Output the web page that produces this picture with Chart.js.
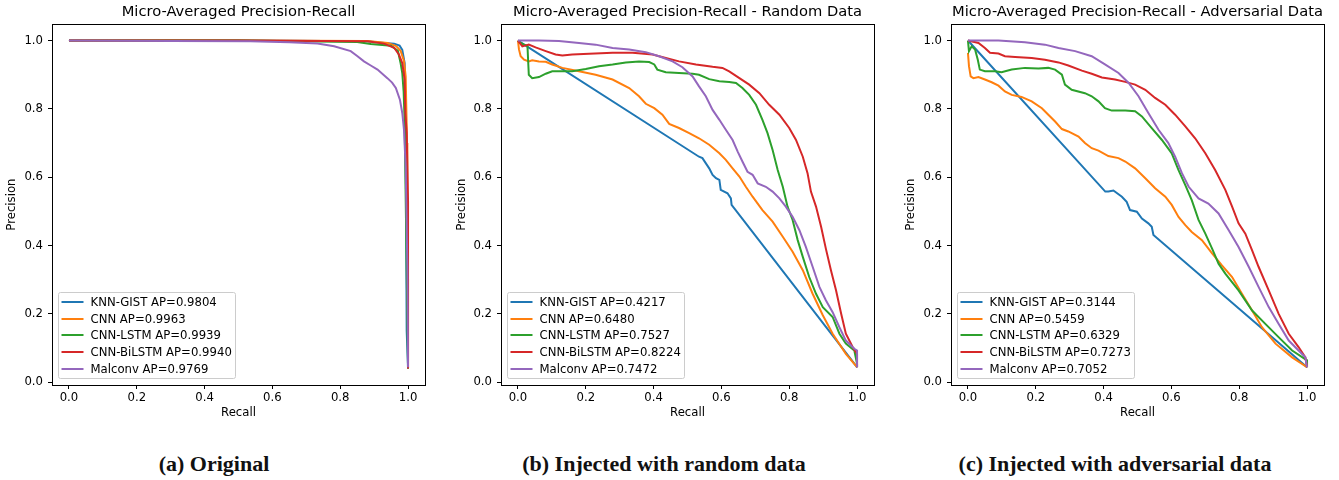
<!DOCTYPE html>
<html>
<head>
<meta charset="utf-8">
<script src="https://cdn.jsdelivr.net/npm/chart.js@4.4.0/dist/chart.umd.min.js"></script>
<style>
body { margin: 0; background: #fff; width: 1339px; height: 480px; position: relative; overflow: hidden; }
canvas { position: absolute; top: 0; }
.cap { position: absolute; top: 451px; font-family: "Liberation Serif", serif; font-weight: bold; font-size: 22px; color: #111; white-space: nowrap; transform: translateX(-50%); }
</style>
</head>
<body>
<canvas id="chartA" width="446" height="430" style="left:0px"></canvas>
<canvas id="chartB" width="446" height="430" style="left:446px"></canvas>
<canvas id="chartC" width="447" height="430" style="left:892px"></canvas>
<div class="cap" style="left:214px">(a) Original</div>
<div class="cap" style="left:664px">(b) Injected with random data</div>
<div class="cap" style="left:1115px">(c) Injected with adversarial data</div>
<script>
const modelNames = ['KNN-GIST', 'CNN', 'CNN-LSTM', 'CNN-BiLSTM', 'Malconv'];
const apOriginal = [0.9804, 0.9963, 0.9939, 0.9940, 0.9769];
const apRandom = [0.4217, 0.6480, 0.7527, 0.8224, 0.7472];
const apAdversarial = [0.3144, 0.5459, 0.6329, 0.7273, 0.7052];
const xTicks = [0, 0.2, 0.4, 0.6, 0.8, 1.0];

// [recall, precision]
const origKnn = [[0, 1.0], [0.5, 1.0], [0.88, 0.998], [0.93, 0.993], [0.959, 0.991], [0.975, 0.985], [0.983, 0.973], [0.99, 0.934], [0.992, 0.8], [0.994, 0.55], [0.996, 0.15], [1.0, 0.04]];
const origCnn = [[0, 1.0], [0.5, 1.0], [0.88, 0.999], [0.94, 0.993], [0.965, 0.984], [0.978, 0.97], [0.988, 0.94], [0.993, 0.895], [0.997, 0.7], [0.998, 0.57], [1.0, 0.3], [1.0, 0.04]];
const origLstm = [[0, 1.0], [0.5, 1.0], [0.85, 0.996], [0.89, 0.99], [0.95, 0.985], [0.97, 0.97], [0.978, 0.934], [0.983, 0.905], [0.987, 0.85], [0.99, 0.76], [0.995, 0.4], [1.0, 0.04]];
const origBilstm = [[0, 1.0], [0.5, 1.0], [0.88, 0.998], [0.929, 0.991], [0.959, 0.979], [0.973, 0.959], [0.983, 0.934], [0.99, 0.886], [0.992, 0.788], [0.996, 0.73], [1.0, 0.53], [1.0, 0.04]];
const origMalconv = [[0, 1.0], [0.3, 0.999], [0.535, 0.998], [0.65, 0.995], [0.733, 0.991], [0.782, 0.983], [0.831, 0.969], [0.85, 0.955], [0.87, 0.939], [0.89, 0.927], [0.91, 0.915], [0.939, 0.89], [0.953, 0.877], [0.964, 0.861], [0.976, 0.827], [0.983, 0.788], [0.988, 0.739], [0.993, 0.63], [0.998, 0.338], [1.0, 0.044]];

const randKnn = [[0, 1.0], [0.534, 0.66], [0.544, 0.656], [0.564, 0.626], [0.574, 0.607], [0.584, 0.597], [0.594, 0.592], [0.598, 0.563], [0.618, 0.553], [0.628, 0.538], [0.63, 0.519], [1.0, 0.044]];
const randCnn = [[0, 1.0], [0.003, 0.974], [0.008, 0.954], [0.018, 0.944], [0.032, 0.939], [0.042, 0.942], [0.062, 0.939], [0.082, 0.938], [0.101, 0.93], [0.131, 0.92], [0.18, 0.91], [0.229, 0.9], [0.279, 0.886], [0.328, 0.861], [0.357, 0.837], [0.377, 0.815], [0.402, 0.802], [0.426, 0.783], [0.446, 0.756], [0.475, 0.744], [0.505, 0.729], [0.534, 0.714], [0.564, 0.695], [0.594, 0.67], [0.613, 0.651], [0.633, 0.626], [0.653, 0.602], [0.672, 0.572], [0.692, 0.543], [0.721, 0.504], [0.751, 0.47], [0.781, 0.426], [0.81, 0.382], [0.84, 0.328], [0.869, 0.259], [0.899, 0.196], [0.928, 0.142], [0.967, 0.083], [1.0, 0.044]];
const randLstm = [[0, 1.0], [0.008, 0.993], [0.018, 0.988], [0.028, 0.985], [0.032, 0.9], [0.042, 0.89], [0.062, 0.893], [0.082, 0.903], [0.101, 0.91], [0.131, 0.91], [0.16, 0.91], [0.2, 0.917], [0.239, 0.925], [0.279, 0.93], [0.318, 0.936], [0.357, 0.939], [0.387, 0.937], [0.402, 0.93], [0.411, 0.915], [0.436, 0.907], [0.475, 0.905], [0.515, 0.903], [0.534, 0.9], [0.564, 0.887], [0.594, 0.881], [0.623, 0.879], [0.643, 0.876], [0.662, 0.861], [0.682, 0.841], [0.702, 0.812], [0.721, 0.768], [0.736, 0.729], [0.751, 0.68], [0.766, 0.621], [0.781, 0.572], [0.795, 0.514], [0.81, 0.475], [0.825, 0.416], [0.84, 0.367], [0.859, 0.308], [0.879, 0.259], [0.899, 0.22], [0.928, 0.191], [0.948, 0.142], [0.967, 0.113], [0.992, 0.093], [1.0, 0.054], [1.0, 0.044]];
const randBilstm = [[0, 1.0], [0.013, 0.983], [0.032, 0.988], [0.052, 0.98], [0.082, 0.969], [0.111, 0.959], [0.131, 0.956], [0.16, 0.959], [0.21, 0.961], [0.279, 0.964], [0.338, 0.964], [0.397, 0.959], [0.436, 0.949], [0.475, 0.939], [0.525, 0.93], [0.574, 0.923], [0.603, 0.92], [0.623, 0.91], [0.653, 0.89], [0.682, 0.871], [0.712, 0.846], [0.741, 0.812], [0.771, 0.783], [0.8, 0.744], [0.82, 0.709], [0.84, 0.66], [0.854, 0.612], [0.864, 0.558], [0.879, 0.514], [0.894, 0.455], [0.908, 0.391], [0.923, 0.328], [0.938, 0.269], [0.953, 0.201], [0.967, 0.142], [0.987, 0.103], [1.0, 0.083], [1.0, 0.044]];
const randMalconv = [[0, 1.0], [0.062, 1.0], [0.121, 0.999], [0.18, 0.993], [0.229, 0.988], [0.279, 0.978], [0.328, 0.974], [0.377, 0.966], [0.416, 0.954], [0.456, 0.939], [0.485, 0.922], [0.515, 0.895], [0.534, 0.866], [0.554, 0.837], [0.574, 0.797], [0.594, 0.768], [0.613, 0.739], [0.633, 0.709], [0.648, 0.675], [0.662, 0.646], [0.677, 0.616], [0.692, 0.607], [0.707, 0.582], [0.731, 0.572], [0.751, 0.558], [0.771, 0.538], [0.79, 0.514], [0.81, 0.484], [0.83, 0.445], [0.849, 0.396], [0.869, 0.338], [0.889, 0.279], [0.908, 0.24], [0.928, 0.205], [0.948, 0.161], [0.967, 0.122], [0.992, 0.098], [1.0, 0.093], [1.0, 0.044]];

const advKnn = [[0, 1.0], [0.405, 0.558], [0.414, 0.558], [0.429, 0.561], [0.454, 0.543], [0.468, 0.528], [0.478, 0.504], [0.498, 0.499], [0.513, 0.479], [0.532, 0.465], [0.542, 0.455], [0.547, 0.431], [1.0, 0.044]];
const advCnn = [[0, 0.964], [0.003, 0.925], [0.008, 0.895], [0.016, 0.89], [0.031, 0.893], [0.05, 0.886], [0.07, 0.878], [0.09, 0.868], [0.109, 0.851], [0.129, 0.841], [0.158, 0.835], [0.188, 0.822], [0.218, 0.802], [0.237, 0.783], [0.257, 0.763], [0.277, 0.741], [0.296, 0.734], [0.326, 0.719], [0.345, 0.7], [0.365, 0.685], [0.385, 0.678], [0.414, 0.662], [0.444, 0.656], [0.464, 0.646], [0.493, 0.626], [0.523, 0.597], [0.552, 0.568], [0.582, 0.543], [0.601, 0.519], [0.621, 0.484], [0.641, 0.46], [0.66, 0.44], [0.69, 0.416], [0.72, 0.377], [0.749, 0.342], [0.779, 0.308], [0.808, 0.259], [0.838, 0.21], [0.867, 0.161], [0.907, 0.113], [0.956, 0.073], [1.0, 0.044]];
const advLstm = [[0, 1.0], [0.003, 0.969], [0.011, 0.983], [0.021, 0.974], [0.029, 0.944], [0.035, 0.915], [0.05, 0.91], [0.08, 0.91], [0.099, 0.907], [0.129, 0.915], [0.168, 0.92], [0.208, 0.918], [0.237, 0.92], [0.257, 0.915], [0.277, 0.9], [0.286, 0.871], [0.306, 0.856], [0.345, 0.846], [0.365, 0.837], [0.385, 0.822], [0.404, 0.802], [0.424, 0.795], [0.464, 0.795], [0.493, 0.793], [0.513, 0.778], [0.542, 0.744], [0.572, 0.709], [0.601, 0.67], [0.621, 0.621], [0.641, 0.577], [0.66, 0.533], [0.68, 0.475], [0.7, 0.435], [0.72, 0.391], [0.739, 0.347], [0.759, 0.318], [0.798, 0.269], [0.838, 0.21], [0.877, 0.171], [0.916, 0.132], [0.956, 0.093], [1.0, 0.064], [1.0, 0.044]];
const advBilstm = [[0, 1.0], [0.031, 0.993], [0.05, 0.978], [0.065, 0.964], [0.09, 0.962], [0.109, 0.954], [0.139, 0.952], [0.188, 0.949], [0.227, 0.944], [0.267, 0.936], [0.296, 0.927], [0.336, 0.912], [0.365, 0.903], [0.395, 0.892], [0.434, 0.886], [0.464, 0.879], [0.493, 0.871], [0.523, 0.856], [0.552, 0.832], [0.582, 0.812], [0.611, 0.783], [0.641, 0.749], [0.67, 0.714], [0.7, 0.67], [0.729, 0.621], [0.759, 0.563], [0.779, 0.514], [0.798, 0.465], [0.818, 0.435], [0.838, 0.386], [0.857, 0.338], [0.887, 0.269], [0.916, 0.201], [0.946, 0.142], [0.975, 0.103], [0.995, 0.073], [1.0, 0.044]];
const advMalconv = [[0, 1.0], [0.09, 1.0], [0.168, 0.995], [0.227, 0.988], [0.267, 0.978], [0.316, 0.969], [0.365, 0.954], [0.404, 0.93], [0.444, 0.905], [0.474, 0.876], [0.503, 0.837], [0.532, 0.788], [0.562, 0.739], [0.591, 0.7], [0.611, 0.66], [0.631, 0.612], [0.651, 0.572], [0.68, 0.538], [0.709, 0.523], [0.739, 0.494], [0.769, 0.445], [0.798, 0.396], [0.828, 0.338], [0.857, 0.279], [0.887, 0.22], [0.916, 0.171], [0.946, 0.122], [0.975, 0.093], [0.995, 0.073], [1.0, 0.044]];

const colors = ['#1f77b4', '#ff7f0e', '#2ca02c', '#d62728', '#9467bd'];
const mplFont = { family: 'DejaVu Sans', size: 11.7 };

// matplotlib style legend box + full frame
const boxLegend = {
    id: 'boxLegend',
    afterDraw: function (chart, args, opts) {
        var ctx = chart.ctx;
        var area = chart.chartArea;
        ctx.save();
        ctx.strokeStyle = '#000';
        ctx.lineWidth = 1;
        ctx.strokeRect(Math.round(area.left) + 0.5, Math.round(area.top) + 0.5,
            Math.round(area.right - area.left), Math.round(area.bottom - area.top));

        ctx.font = '11.7px "DejaVu Sans"';
        var w = 0;
        opts.labels.forEach(function (t) { w = Math.max(w, ctx.measureText(t).width); });
        var bw = Math.round(32 + w + 4), bh = 86;
        var x = Math.round(area.left) + 6.5, y = Math.round(area.bottom) - 6.5 - bh;
        ctx.beginPath();
        ctx.roundRect(x, y, bw, bh, 2);
        ctx.fillStyle = 'rgba(255,255,255,0.8)';
        ctx.fill();
        ctx.strokeStyle = '#cccccc';
        ctx.stroke();
        ctx.textBaseline = 'middle';
        opts.labels.forEach(function (t, i) {
            var ly = Math.round(y + 9.5 + i * 16.7);
            ctx.strokeStyle = colors[i];
            ctx.lineWidth = 2;
            ctx.beginPath();
            ctx.moveTo(x + 3, ly);
            ctx.lineTo(x + 25, ly);
            ctx.stroke();
            ctx.fillStyle = '#000';
            ctx.fillText(t, x + 32, ly + 0.5);
        });
        ctx.restore();
    }
};

function makeChart(id, title, series, ap, yWidth, padRight, yTitlePad) {
    var labels = modelNames.map(function (n, i) { return n + ' AP=' + ap[i].toFixed(4); });
    return new Chart(document.getElementById(id), {
        type: 'scatter',
        data: {
            datasets: series.map(function (s, i) {
                return {
                    label: labels[i],
                    data: s.map(function (p) { return { x: p[0], y: p[1] }; }),
                    showLine: true,
                    borderColor: colors[i],
                    backgroundColor: colors[i],
                    borderWidth: 2,
                    pointRadius: 0,
                    tension: 0,
                    order: 4 - i
                };
            })
        },
        options: {
            responsive: false,
            animation: false,
            events: [],
            layout: { padding: { left: 0, right: padRight, top: 0, bottom: 0 } },
            plugins: {
                legend: { display: false },
                tooltip: { enabled: false },
                title: {
                    display: true,
                    fullSize: false,
                    text: title,
                    color: '#000',
                    font: { family: 'DejaVu Sans', size: 14.7, weight: 'normal' },
                    padding: { top: 3, bottom: 3.5 }
                },
                boxLegend: { labels: labels }
            },
            scales: {
                x: {
                    type: 'linear',
                    min: -0.05,
                    max: 1.05,
                    afterFit: function (s) { s.height = 45; },
                    afterBuildTicks: function (s) { s.ticks = xTicks.map(function (v) { return { value: v }; }); },
                    ticks: { color: '#000', font: mplFont, padding: 2, maxRotation: 0, callback: function (v) { return v.toFixed(1); } },
                    grid: { drawOnChartArea: false, tickLength: 4, color: '#000' },
                    border: { color: '#000' },
                    title: { display: true, text: 'Recall', color: '#000', font: mplFont, padding: { top: 10, bottom: 10 } }
                },
                y: {
                    type: 'linear',
                    min: -0.008,
                    max: 1.048,
                    afterFit: function (s) { s.width = yWidth; },
                    afterBuildTicks: function (s) { s.ticks = xTicks.map(function (v) { return { value: v }; }); },
                    ticks: { color: '#000', font: mplFont, padding: 5, callback: function (v) { return v.toFixed(1); } },
                    grid: { drawOnChartArea: false, tickLength: 4, color: '#000' },
                    border: { color: '#000' },
                    title: { display: true, text: 'Precision', color: '#000', font: mplFont, padding: { top: yTitlePad, bottom: 0 } }
                }
            }
        },
        plugins: [boxLegend]
    });
}

makeChart('chartA', 'Micro-Averaged Precision-Recall',
    [origKnn, origCnn, origLstm, origBilstm, origMalconv], apOriginal, 52, 21, 5);
makeChart('chartB', 'Micro-Averaged Precision-Recall - Random Data',
    [randKnn, randCnn, randLstm, randBilstm, randMalconv], apRandom, 55, 18, 9);
makeChart('chartC', 'Micro-Averaged Precision-Recall - Adversarial Data',
    [advKnn, advCnn, advLstm, advBilstm, advMalconv], apAdversarial, 59, 15, 12);
</script>
</body>
</html>
